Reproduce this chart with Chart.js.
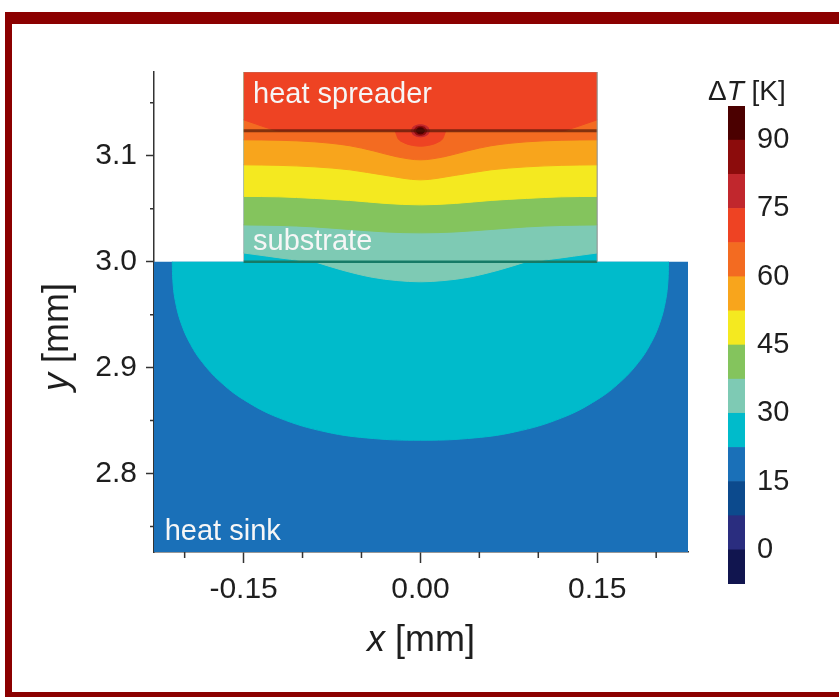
<!DOCTYPE html>
<html>
<head>
<meta charset="utf-8">
<script src="https://cdn.jsdelivr.net/npm/chart.js@4.4.0/dist/chart.umd.min.js"></script>
<style>
html, body { margin: 0; padding: 0; background: #fff; overflow: hidden; }
body { width: 839px; height: 697px; position: relative; }
#frame { position: absolute; left: 5px; top: 12px; width: 900px; height: 690px; box-sizing: border-box;
         border: solid #8b0000; border-width: 12px 12px 10px 7px; }
#main { position: absolute; left: 0; top: 0; }
#bar { position: absolute; left: 700px; top: 61px; }
</style>
</head>
<body>
<div id="frame"></div>
<canvas id="main" width="839" height="697"></canvas>
<canvas id="bar" width="139" height="560"></canvas>
<script>
// colour scale, dT in K (band edges + colours)
var levels = [-7.5, 0, 7.5, 15, 22.5, 30, 37.5, 45, 52.5, 60, 67.5, 75, 82.5, 90, 97.5]
var bandColors = ['#11154f', '#2a2d7f', '#0c4a8d', '#1a70b8', '#00bbcb', '#7ecab4', '#84c45d',
                  '#f4e920', '#f8a51c', '#f36b21', '#ee4323', '#c1272d', '#8c0c0c', '#4b0000']
var barTicks = [0, 15, 30, 45, 60, 75, 90]

// axes, mm
var xRange = [-0.226, 0.227]
var yRange = [2.726, 3.179]
var xTicks = [-0.15, 0, 0.15]
var xMinor = [-0.2, -0.1, -0.05, 0.05, 0.1, 0.2]
var yTicks = [2.8, 2.9, 3.0, 3.1]
var yMinor = [2.75, 2.85, 2.95, 3.05, 3.15]

// layers
var sinkX = [-0.226, 0.227]
var sinkTop = 3.0
var chipX = [-0.15, 0.15]
var activeY = 3.1235
var outlineX = [-0.15, -0.15, 0.15, 0.15]
var outlineY = [3.0, 3.179, 3.179, 3.0]

// isotherms (x, y in mm)
var sink225X = [-0.2105, -0.21, -0.208, -0.203, -0.195, -0.185, -0.17, -0.15, -0.12, -0.08, -0.04, 0,
                0.04, 0.08, 0.12, 0.15, 0.17, 0.185, 0.195, 0.203, 0.208, 0.21, 0.2105]
var sink225Y = [3.0, 2.982, 2.9634, 2.942, 2.922, 2.905, 2.8869, 2.8698, 2.8526, 2.8393, 2.8331, 2.8315,
                2.8331, 2.8393, 2.8526, 2.8698, 2.8869, 2.905, 2.922, 2.942, 2.9634, 2.982, 3.0]
var sink30X = [-0.09, -0.067, -0.041, -0.02, 0, 0.02, 0.041, 0.067, 0.09]
var sink30Y = [3.0, 2.9922, 2.9853, 2.9822, 2.981, 2.9822, 2.9853, 2.9922, 3.0]

var chipXs = [-0.15, -0.12, -0.09, -0.06, -0.03, 0, 0.03, 0.06, 0.09, 0.12, 0.15]
var sub30X = [-0.15, -0.13, -0.11, -0.09, 0.09, 0.11, 0.13, 0.15]
var sub30Y = [3.0082, 3.0052, 3.0022, 3.0, 3.0, 3.0022, 3.0052, 3.0082]
var sub375Y = [3.0347, 3.0342, 3.0328, 3.0304, 3.0281, 3.0272, 3.0281, 3.0304, 3.0328, 3.0342, 3.0347]
var sub45Y = [3.0616, 3.0612, 3.0597, 3.0578, 3.055, 3.0536, 3.055, 3.0578, 3.0597, 3.0612, 3.0616]
var sub525Y = [3.0914, 3.0909, 3.0895, 3.0867, 3.0815, 3.0772, 3.0815, 3.0867, 3.0895, 3.0909, 3.0914]
var sub60X = [-0.15, -0.12, -0.09, -0.06, -0.04, -0.02, 0, 0.02, 0.04, 0.06, 0.09, 0.12, 0.15]
var sub60Y = [3.115, 3.1146, 3.1131, 3.1094, 3.1046, 3.099, 3.0961, 3.099, 3.1046, 3.1094, 3.1131, 3.1146, 3.115]
var top675X = [-0.15, -0.14, -0.13, -0.12, -0.022, -0.019, -0.014, -0.007, 0,
               0.007, 0.014, 0.019, 0.022, 0.12, 0.13, 0.14, 0.15]
var top675Y = [3.1339, 3.1301, 3.1263, 3.1235, 3.1235, 3.1162, 3.1123, 3.1098, 3.109,
               3.1098, 3.1123, 3.1162, 3.1235, 3.1235, 3.1263, 3.1301, 3.1339]
// hot spot on the active layer
var spot75X = [-0.0077, -0.0065, -0.0045, -0.0025, 0, 0.0025, 0.0045, 0.0065, 0.0077]
var spot75Up = [3.1235, 3.1266, 3.1281, 3.1289, 3.1292, 3.1289, 3.1281, 3.1266, 3.1235]
var spot75Dn = [3.1235, 3.1204, 3.1189, 3.1181, 3.1178, 3.1181, 3.1189, 3.1204, 3.1235]
var spot825X = [-0.0055, -0.004, -0.002, 0, 0.002, 0.004, 0.0055]
var spot825Up = [3.1235, 3.1264, 3.1274, 3.1277, 3.1274, 3.1264, 3.1235]
var spot825Dn = [3.1235, 3.1206, 3.1196, 3.1193, 3.1196, 3.1206, 3.1235]
var spot90X = [-0.0035, -0.0025, -0.0012, 0, 0.0012, 0.0025, 0.0035]
var spot90Up = [3.1235, 3.1255, 3.1261, 3.1263, 3.1261, 3.1255, 3.1235]
var spot90Dn = [3.1235, 3.1215, 3.1209, 3.1207, 3.1209, 3.1215, 3.1235]

var notes = [
    {text: 'heat spreader', x: -0.142, y: 3.1497},
    {text: 'substrate', x: -0.142, y: 3.0111},
    {text: 'heat sink', x: -0.2169, y: 2.7376}
]

var family = "'Liberation Sans', Arial, sans-serif"
Chart.defaults.font.family = family

function pts(xs, ys) {
    return xs.map(function (x, i) { return {x: x, y: ys[i]} })
}
function colorOf(level) {
    return bandColors[levels.indexOf(level)]
}
function band(xs, ys, level, fill, edge, round) {
    var col = colorOf(level)
    var d = {
        data: pts(xs, ys), fill: fill,
        backgroundColor: col, borderColor: edge === false ? 'rgba(0,0,0,0)' : col, borderWidth: 1
    }
    if (round) d.tension = 0.4
    else d.cubicInterpolationMode = 'monotone'
    return d
}
function stroke(xs, ys, col, w) {
    return {data: pts(xs, ys), fill: false, borderColor: col, borderWidth: w}
}

// bottom layer first
var layers = [
    band(sinkX, [sinkTop, sinkTop], 15, 'start', false),
    band(sink225X, sink225Y, 22.5, {value: sinkTop}, true, true),
    band(sink30X, sink30Y, 30, {value: sinkTop}),
    band(chipX, [sinkTop, sinkTop], 22.5, 'end', false),
    band(sub30X, sub30Y, 30, 'end'),
    band(chipXs, sub375Y, 37.5, 'end'),
    band(chipXs, sub45Y, 45, 'end'),
    band(chipXs, sub525Y, 52.5, 'end'),
    band(sub60X, sub60Y, 60, 'end'),
    band(top675X, top675Y, 67.5, 'end'),
    band(spot75X, spot75Up, 75, {value: activeY}),
    band(spot75X, spot75Dn, 75, {value: activeY}),
    band(spot825X, spot825Up, 82.5, {value: activeY}),
    band(spot825X, spot825Dn, 82.5, {value: activeY}),
    band(spot90X, spot90Up, 90, {value: activeY}),
    band(spot90X, spot90Dn, 90, {value: activeY}),
    stroke(chipX, [activeY, activeY], 'rgba(70,20,5,0.65)', 3),
    stroke(chipX, [sinkTop, sinkTop], '#167a66', 2.5),
    stroke(outlineX, outlineY, 'rgba(150,150,150,0.5)', 1)
]
layers.forEach(function (d, i) { d.order = layers.length - i })

function drawParts(c, parts, size, x, y, align) {
    var w = 0
    parts.forEach(function (p) {
        c.font = (p[1] ? 'italic ' : '') + size + 'px ' + family
        w += c.measureText(p[0]).width
    })
    var cx = align === 'center' ? x - w / 2 : x
    c.textAlign = 'left'
    c.textBaseline = 'alphabetic'
    parts.forEach(function (p) {
        c.font = (p[1] ? 'italic ' : '') + size + 'px ' + family
        c.fillText(p[0], cx, y)
        cx += c.measureText(p[0]).width
    })
}

var minorTicks = {
    id: 'minorTicks',
    afterDraw: function (chart) {
        var c = chart.ctx, a = chart.chartArea, sx = chart.scales.x, sy = chart.scales.y
        c.save()
        c.strokeStyle = '#333'
        c.lineWidth = 1.5
        c.beginPath()
        xMinor.forEach(function (v) {
            var p = sx.getPixelForValue(v)
            c.moveTo(p, a.bottom); c.lineTo(p, a.bottom + 6)
        })
        yMinor.forEach(function (v) {
            var p = sy.getPixelForValue(v)
            c.moveTo(a.left, p); c.lineTo(a.left - 4, p)
        })
        c.stroke()
        c.restore()
    }
}

var labels = {
    id: 'labels',
    afterDatasetsDraw: function (chart) {
        var c = chart.ctx, sx = chart.scales.x, sy = chart.scales.y
        c.save()
        c.fillStyle = '#f6f6f6'
        notes.forEach(function (n) {
            drawParts(c, [[n.text, false]], 29, sx.getPixelForValue(n.x), sy.getPixelForValue(n.y), 'left')
        })
        c.restore()
    }
}

var titles = {
    id: 'titles',
    afterDraw: function (chart) {
        var c = chart.ctx, a = chart.chartArea
        c.save()
        c.fillStyle = '#1e1e1e'
        drawParts(c, [['x', true], [' [mm]', false]], 36, (a.left + a.right) / 2, a.bottom + 99, 'center')
        c.translate(a.left - 86, a.top + 265)
        c.rotate(-Math.PI / 2)
        drawParts(c, [['y', true], [' [mm]', false]], 36, 0, 0, 'center')
        c.restore()
    }
}

var chart1 = new Chart(document.getElementById('main'), {
    type: 'line',
    data: {datasets: layers},
    options: {
        responsive: false,
        animation: false,
        layout: {padding: {left: 0, top: 72, right: 151, bottom: 0}},
        elements: {point: {radius: 0, hitRadius: 0}},
        plugins: {legend: {display: false}, tooltip: {enabled: false}},
        scales: {
            x: {
                type: 'linear', min: xRange[0], max: xRange[1],
                afterBuildTicks: function (s) { s.ticks = xTicks.map(function (v) { return {value: v} }) },
                afterFit: function (s) { s.height = 145 },
                grid: {drawOnChartArea: false, tickLength: 11, tickColor: '#333', tickWidth: 1.5},
                border: {display: true, color: '#333', width: 1.5},
                ticks: {
                    autoSkip: false, maxRotation: 0, padding: 9, color: '#1e1e1e', font: {size: 30},
                    callback: function (v) { return Number(v).toFixed(2) }
                }
            },
            y: {
                type: 'linear', min: yRange[0], max: yRange[1],
                afterBuildTicks: function (s) { s.ticks = yTicks.map(function (v) { return {value: v} }) },
                afterFit: function (s) { s.width = 154 },
                grid: {drawOnChartArea: false, tickLength: 8, tickColor: '#333', tickWidth: 1.5},
                border: {display: true, color: '#333', width: 1.5},
                ticks: {
                    padding: 9, color: '#1e1e1e', font: {size: 30},
                    callback: function (v) { return Number(v).toFixed(1) }
                }
            }
        }
    },
    plugins: [minorTicks, labels, titles]
})

var barTitle = {
    id: 'barTitle',
    afterDraw: function (chart) {
        var c = chart.ctx, a = chart.chartArea
        c.save()
        c.fillStyle = '#1e1e1e'
        drawParts(c, [['\u0394', false], ['T', true], [' [K]', false]], 28, a.left - 20, a.top - 6, 'left')
        c.restore()
    }
}

var chart2 = new Chart(document.getElementById('bar'), {
    type: 'bar',
    data: {
        labels: [''],
        datasets: bandColors.map(function (col, i) {
            return {data: [[levels[i], levels[i + 1]]], backgroundColor: col, borderWidth: 0,
                    barPercentage: 1, categoryPercentage: 1}
        })
    },
    options: {
        responsive: false,
        animation: false,
        layout: {padding: {left: 28, top: 45, right: 0, bottom: 37}},
        plugins: {legend: {display: false}, tooltip: {enabled: false}},
        scales: {
            x: {display: false, stacked: true},
            y: {
                position: 'right', min: levels[0], max: levels[levels.length - 1],
                afterBuildTicks: function (s) { s.ticks = barTicks.map(function (v) { return {value: v} }) },
                afterFit: function (s) { s.width = 94 },
                grid: {display: false, drawTicks: false},
                border: {display: false},
                ticks: {padding: 12, color: '#1e1e1e', font: {size: 29}}
            }
        }
    },
    plugins: [barTitle]
})
</script>
</body>
</html>
